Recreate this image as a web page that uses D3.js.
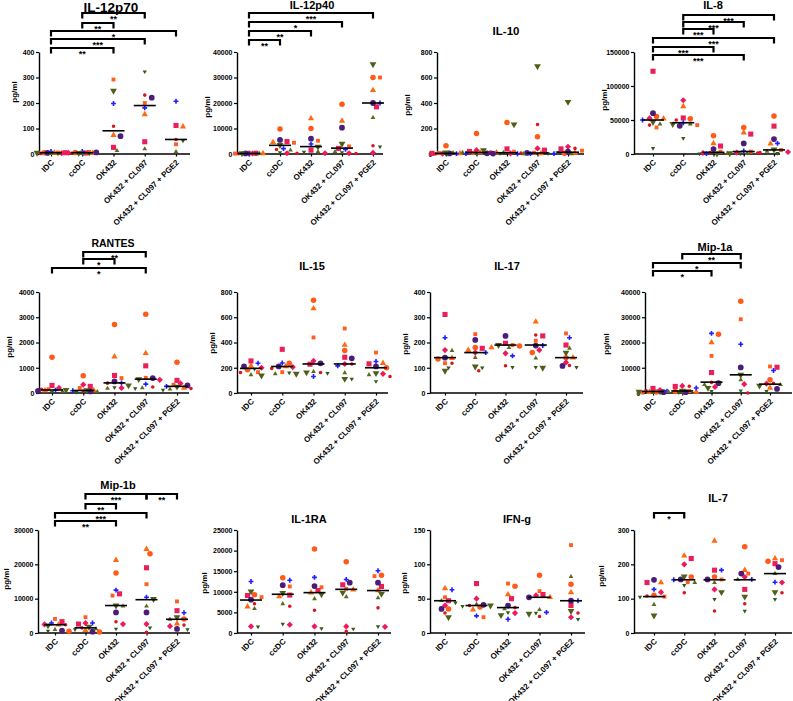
<!DOCTYPE html>
<html><head><meta charset="utf-8">
<script src="https://cdn.jsdelivr.net/npm/d3@7"></script>
<style>
body{margin:0;background:#fff;}
svg{display:block;font-family:"Liberation Sans",Arial,sans-serif;}
</style></head>
<body><svg id="c" width="793" height="701"></svg>
<script>
// ---------- data ----------
const categories = ["IDC","ccDC","OK432","OK432 + CL097","OK432 + CL097 + PGE2"];
// donor order: orange circle, orange triangle, orange square, pink square, pink diamond,
// red circle, purple circle, blue cross, olive triangle up, olive triangle down, green triangle down
const il12p70 = [
  [5,4,6,5,3,2,4,10,2,5,1],
  [6,3,8,4,5,3,6,10,2,4,1],
  [null,74,292,26,null,109,70,198,13,248,null],
  [null,155,200,48,null,231,221,181,20,null,323],
  [null,107,38,112,null,57,null,207,9,null,52]
];
const il12p70Med = [5,5,91,190,57];
const il12p70Ticks = [0,100,200,300,400];

const il12p40 = [
  [300,200,200,300,200,100,200,100,200,300,100],
  [9800,4600,4400,4900,300,1800,5500,2100,1500,3500,600],
  [10000,13900,5200,1500,300,300,6000,3900,900,2900,800],
  [19500,13000,3000,2200,300,200,10300,1800,900,4000,600],
  [30000,25000,30000,18500,500,3200,20000,20000,14300,35200,2800]
];
const il12p40Med = [200,3400,2900,2300,20000];
const il12p40Ticks = [0,10000,20000,30000,40000];

const il10 = [
  [65,5,8,5,3,2,4,3,10,12,2],
  [160,10,8,20,30,15,5,4,12,30,3],
  [247,10,18,40,5,8,3,2,12,232,4],
  [135,5,10,30,44,232,8,3,2,688,4],
  [5,8,26,40,57,44,18,3,2,409,12]
];
const il10Med = [5,12,10,8,14];
const il10Ticks = [0,200,400,600,800];

const il8 = [
  [55000,52000,39000,121700,52500,42500,60000,50000,44000,47000,8300],
  [52000,70000,42500,53000,79000,50000,41500,46000,44000,44000,23000],
  [27000,15600,3400,11700,1500,2000,7300,500,1000,800,300],
  [39000,31300,3500,29300,2000,1500,15600,4500,800,1000,500],
  [55700,15000,5900,41000,3000,2000,22000,15600,4000,6500,1000]
];
const il8Med = [50000,46000,2400,3600,6000];
const il8Ticks = [0,50000,100000,150000];

const rantes = [
  [1420,100,150,300,200,150,80,110,60,120,40],
  [680,100,200,262,330,80,60,90,50,110,30],
  [2714,1442,590,695,200,390,460,400,180,300,220],
  [3120,1573,600,1075,520,240,590,350,200,550,180],
  [1220,200,330,500,380,180,300,262,150,250,120]
];
const rantesMed = [120,100,400,550,262];
const rantesTicks = [0,1000,2000,3000,4000];

const il15 = [
  [185,215,165,254,200,162,210,236,144,139,190],
  [235,210,165,346,205,195,210,238,152,152,160],
  [734,669,440,228,254,163,235,131,170,163,157],
  [336,380,511,283,230,230,275,215,160,112,110],
  [200,236,320,231,152,131,210,250,144,157,92]
];
const il15Med = [195,210,230,230,200];
const il15Ticks = [0,200,400,600,800];

const il17 = [
  [135,138,118,311,170,118,140,219,168,88,100],
  [180,170,233,177,160,88,210,160,140,105,100],
  [186,180,190,197,157,108,226,147,180,190,102],
  [160,282,207,226,170,230,188,188,138,100,102],
  [140,140,236,190,121,109,107,219,177,160,102]
];
const il17Med = [140,160,190,190,140];
const il17Ticks = [0,100,200,300,400];

const mip1a = [
  [400,300,200,1800,1200,1000,300,700,200,500,100],
  [600,400,800,2600,2800,2700,300,2000,500,900,200],
  [23300,20000,14700,8100,2400,4200,3900,23600,3300,2000,650],
  [36300,null,29200,null,3500,0,10100,19300,5200,7200,900],
  [5200,2000,10500,10200,3700,3800,1600,8900,3300,2900,650]
];
const mip1aMed = [600,800,4300,7200,3500];
const mip1aTicks = [0,10000,20000,30000,40000];

const mip1b = [
  [500,2400,4100,3300,2500,2400,700,2900,1000,2200,600],
  [300,800,4600,2600,2900,1500,400,2900,1200,1800,1000],
  [17500,21200,10900,11400,2600,3300,6000,12500,7800,8000,1200],
  [23100,24400,14200,19000,2600,200,6000,10400,7800,9900,1500],
  [4100,2700,9200,6500,2000,2300,1200,5900,4000,4600,1000]
];
const mip1bMed = [2400,1500,8000,9700,4000];
const mip1bTicks = [0,10000,20000,30000];

const il1ra = [
  [9300,6400,8700,9100,1600,7100,8100,12500,5900,10100,1500],
  [13400,8900,11300,9200,2000,6500,11600,12800,7100,9700,2200],
  [20400,9800,11100,10300,1600,5500,11400,13500,8300,9400,1100],
  [17300,10500,10700,11700,1600,400,12200,13000,8800,9800,1000],
  [14000,10300,13800,11300,1500,6100,12200,15100,8500,9500,1600]
];
const il1raMed = [8000,9400,9800,10600,10300];
const il1raTicks = [0,5000,10000,15000,20000,25000];

const ifng = [
  [35,65,52,47,40,29,35,63,47,23,44],
  [38,34,23,72,50,40,41,25,42,40,39],
  [68,56,72,50,29,37,40,20,35,26,30],
  [84,52,61,56,55,24,52,30,34,28,29],
  [71,59,128,40,23,29,47,47,82,32,20]
];
const ifngMed = [47,40,37,52,47];
const ifngTicks = [0,50,100,150];

const il7 = [
  [110,147,106,147,119,108,155,127,83,51,105],
  [163,225,148,217,200,117,156,155,147,165,139],
  [163,268,156,183,127,64,156,183,147,119,98],
  [251,183,173,127,163,85,173,156,156,106,64],
  [209,217,212,202,147,117,192,148,173,119,98]
];
const il7Med = [106,155,155,155,173];
const il7Ticks = [0,100,200,300];

// ---------- styles ----------
const donorStyles = [
  {shape:"circle",  color:"#ff5a1a", size:24},
  {shape:"triangle",color:"#ff6a10", size:17},
  {shape:"square",  color:"#ff5e1e", size:15},
  {shape:"square",  color:"#ea1f5a", size:26},
  {shape:"diamond", color:"#f0185a", size:19},
  {shape:"circle",  color:"#d9141e", size:10},
  {shape:"circle",  color:"#4b1c78", size:26},
  {shape:"cross",   color:"#1f1fff", size:13},
  {shape:"triangle",color:"#5b6b1e", size:10},
  {shape:"tridown", color:"#4f5f1a", size:20},
  {shape:"tridown", color:"#2f5b12", size:8}
];

const panels = [
  {title:"IL-12p70", data:il12p70, med:il12p70Med, ticks:il12p70Ticks, tx:111, ty:7, ts:13.5,
   ax:39, ae:190, c0:51, c4:176, top:52, zero:154, yl:[14,92],
   br:[[1,3,"**",13],[1,2,"**",23],[0,4,"*",31],[0,3,"***",39],[0,2,"**",48]]},
  {title:"IL-12p40", data:il12p40, med:il12p40Med, ticks:il12p40Ticks, tx:312, ty:5, ts:11,
   ax:237, ae:383, c0:249, c4:373, top:52, zero:154, yl:[207,107],
   br:[[0,4,"***",13],[0,3,"*",22],[0,2,"**",31],[0,1,"**",40]]},
  {title:"IL-10", data:il10, med:il10Med, ticks:il10Ticks, tx:506, ty:31, ts:11.5,
   ax:437, ae:584, c0:446, c4:568, top:52, zero:154, yl:[407,105], br:[]},
  {title:"IL-8", data:il8, med:il8Med, ticks:il8Ticks, tx:713, ty:5, ts:11,
   ax:634, ae:780, c0:653, c4:774, top:52, zero:154, yl:[604,100],
   br:[[1,4,"***",15],[1,3,"***",22],[1,2,"***",29],[0,4,"***",38],[0,2,"***",47],[0,3,"***",55]]},
  {title:"RANTES", data:rantes, med:rantesMed, ticks:rantesTicks, tx:113, ty:243, ts:10.5,
   ax:39, ae:189, c0:52, c4:177, top:292, zero:393, yl:[9,347],
   br:[[1,3,"**",252],[1,2,"*",259],[0,3,"*",268]]},
  {title:"IL-15", data:il15, med:il15Med, ticks:il15Ticks, tx:312, ty:266, ts:11,
   ax:237, ae:388, c0:251, c4:376, top:292, zero:393, yl:[212,343], br:[]},
  {title:"IL-17", data:il17, med:il17Med, ticks:il17Ticks, tx:507, ty:266, ts:11,
   ax:430, ae:583, c0:445, c4:566, top:292, zero:393, yl:[405,344], br:[]},
  {title:"Mip-1a", data:mip1a, med:mip1aMed, ticks:mip1aTicks, tx:715, ty:247, ts:11,
   ax:645, ae:792, c0:653, c4:770, top:292, zero:393, yl:[606,344],
   br:[[1,3,"**",254],[0,3,"*",263],[0,2,"*",271]]},
  {title:"Mip-1b", data:mip1b, med:mip1bMed, ticks:mip1bTicks, tx:118, ty:485, ts:11,
   ax:38, ae:190, c0:55, c4:177, top:530, zero:633, yl:[6,579],
   br:[[1,3,"***",494],[3,4,"**",494],[1,2,"**",504],[0,3,"***",513],[0,2,"**",521]]},
  {title:"IL-1RA", data:il1ra, med:il1raMed, ticks:il1raTicks, tx:309, ty:519, ts:11,
   ax:237, ae:391, c0:251, c4:378, top:530, zero:633, yl:[204,583], br:[]},
  {title:"IFN-g", data:ifng, med:ifngMed, ticks:ifngTicks, tx:517, ty:519, ts:11,
   ax:430, ae:585, c0:445, c4:571, top:530, zero:633, yl:[404,583], br:[]},
  {title:"IL-7", data:il7, med:il7Med, ticks:il7Ticks, tx:718, ty:498, ts:11,
   ax:634, ae:792, c0:654, c4:775, top:530, zero:633, yl:[601,576],
   br:[[0,1,"*",513]]}
];

// ---------- drawing ----------
const svg = d3.select("#c");
svg.append("rect").attr("width",793).attr("height",701).attr("fill","#fff");

function symbolPath(st){
  if(st.shape==="circle") return d3.symbol(d3.symbolCircle, st.size)();
  if(st.shape==="square") return d3.symbol(d3.symbolSquare, st.size)();
  if(st.shape==="triangle") return d3.symbol(d3.symbolTriangle, st.size)();
  if(st.shape==="tridown") return d3.symbol(d3.symbolTriangle, st.size)();
  if(st.shape==="diamond") return d3.symbol(d3.symbolSquare, st.size)();
  if(st.shape==="cross") return d3.symbol(d3.symbolCross, st.size)();
}
function symbolRot(st){
  if(st.shape==="tridown") return 180;
  if(st.shape==="diamond") return 45;
  return 0;
}

function swarm(vals, y, cx){
  const pts = [];
  vals.forEach((v,i)=>{ if(v!=null) pts.push({i, v, y:y(v)}); });
  pts.sort((a,b)=>a.y-b.y);
  const placed = [];
  const offs = [0,3.5,-3.5,7,-7,10.5,-10.5,14,-14];
  const minD = 4.6;
  pts.forEach(p=>{
    let best=null, bestD=-1;
    for(const o of offs){
      let md = Infinity;
      for(const q of placed){ const d = Math.hypot(cx+o-q.x, p.y-q.y); if(d<md) md=d; }
      if(md>=minD){ best=o; bestD=md; break; }
      if(md>bestD){ bestD=md; best=o; }
    }
    p.x = cx + best;
    placed.push(p);
  });
  pts.sort((a,b)=>a.i-b.i);
  return pts;
}

panels.forEach(P=>{
  const g = svg.append("g");
  const y = d3.scaleLinear().domain([0, d3.max(P.ticks)]).range([P.zero, P.top]);
  const x = d3.scalePoint().domain(categories).range([P.c0, P.c4]);

  // title
  g.append("text").attr("x",P.tx).attr("y",P.ty).attr("text-anchor","middle")
    .attr("dominant-baseline","central").attr("font-size",P.ts).attr("font-weight","bold")
    .text(P.title);

  // y axis
  const ya = g.append("g").attr("transform",`translate(${P.ax},0)`)
    .call(d3.axisLeft(y).tickValues(P.ticks).tickSize(3).tickSizeOuter(0).tickPadding(1.5).tickFormat(d3.format("d")));
  ya.select(".domain").attr("stroke","#000").attr("stroke-width",1.4);
  ya.selectAll(".tick line").attr("stroke","#000").attr("stroke-width",1.2);
  ya.selectAll(".tick text").attr("font-size",7).attr("font-weight","bold").attr("fill","#000")
    .attr("font-family","Liberation Sans, Arial, sans-serif");

  // x axis
  g.append("line").attr("x1",P.ax).attr("x2",P.ae).attr("y1",P.zero).attr("y2",P.zero)
    .attr("stroke","#000").attr("stroke-width",1.4);
  const xa = g.append("g").attr("transform",`translate(0,${P.zero})`)
    .call(d3.axisBottom(x).tickSize(2.5).tickSizeOuter(0));
  xa.select(".domain").remove();
  xa.selectAll(".tick line").attr("stroke","#000").attr("stroke-width",1.2);
  xa.selectAll(".tick text").attr("font-size",8).attr("font-weight","bold").attr("fill","#000")
    .attr("font-family","Liberation Sans, Arial, sans-serif")
    .attr("text-anchor","end").attr("dy",0).attr("y",0)
    .attr("transform","translate(3,9) rotate(-45)");

  // y label
  g.append("text").attr("transform",`translate(${P.yl[0]},${P.yl[1]}) rotate(-90)`)
    .attr("text-anchor","middle").attr("dominant-baseline","central")
    .attr("font-size",8).attr("font-weight","bold").text("pg/ml");

  // points
  categories.forEach((c,ci)=>{
    const pts = swarm(P.data[ci], y, x(c));
    g.append("g").selectAll("path").data(pts).join("path")
      .attr("d", d=>symbolPath(donorStyles[d.i]))
      .attr("fill", d=>donorStyles[d.i].color)
      .attr("transform", d=>`translate(${d.x},${d.y}) rotate(${symbolRot(donorStyles[d.i])})`);
  });

  // medians
  g.append("g").selectAll("line").data(P.med).join("line")
    .attr("x1",(d,i)=>x(categories[i])-11).attr("x2",(d,i)=>x(categories[i])+11)
    .attr("y1",d=>y(d)).attr("y2",d=>y(d)).attr("stroke","#000").attr("stroke-width",1.6);

  // brackets
  P.br.forEach(b=>{
    const x1 = x(categories[b[0]]), x2 = x(categories[b[1]]), yy = b[3];
    g.append("path").attr("d",`M${x1},${yy+5.5}V${yy}H${x2}V${yy+5.5}`)
      .attr("fill","none").attr("stroke","#000").attr("stroke-width",2.2);
    g.append("text").attr("x",(x1+x2)/2).attr("y",yy+8.5).attr("text-anchor","middle")
      .attr("font-size",9).attr("font-weight","bold").text(b[2]);
  });
});
</script>
</body></html>
